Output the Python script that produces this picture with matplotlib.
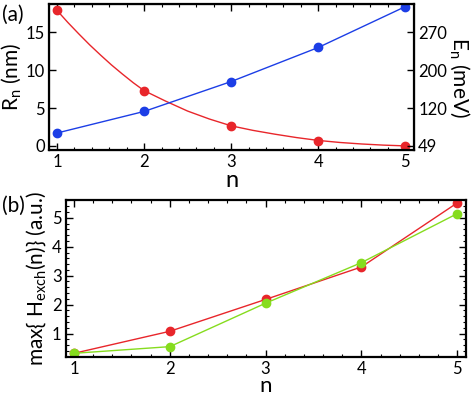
import matplotlib

matplotlib.use("Agg")
import matplotlib.pyplot as plt
from matplotlib.ticker import MultipleLocator

plt.rcParams["font.family"] = ["Lato", "DejaVu Sans"]
plt.rcParams["mathtext.fontset"] = "custom"
plt.rcParams["mathtext.rm"] = "Lato"
plt.rcParams["mathtext.it"] = "Lato:italic"

RED = "#e8262b"
BLUE = "#1c3ee6"
GREEN = "#86dc1e"

# panel (a)
n = [1, 2, 3, 4, 5]
r_pts = [17.9, 7.3, 2.65, 0.65, 0.0]
blue_pts = [1.7, 4.55, 8.5, 13.0, 18.4]
# smooth red curve
n_curve = [1, 1.125, 1.25, 1.375, 1.5, 1.625, 1.75, 1.875, 2, 2.25, 2.5, 2.75, 3,
           3.25, 3.5, 3.75, 4, 4.25, 4.5, 4.75, 5]
r_curve = [17.9, 16.3, 14.8, 13.35, 12.0, 10.7, 9.5, 8.35, 7.3, 5.9, 4.6, 3.55, 2.65,
           2.05, 1.55, 1.1, 0.72, 0.45, 0.25, 0.1, 0.0]
left_ticks = [0, 5, 10, 15]
energy_labels = ["49", "120", "200", "270"]

# panel (b)
h_red = [0.32, 1.08, 2.18, 3.30, 5.51]
h_green = [0.32, 0.55, 2.05, 3.45, 5.14]


def style(ax):
    ax.tick_params(which="both", direction="in", top=True, right=True, labelsize=12, pad=3)
    ax.tick_params(which="major", length=5, width=1)
    ax.tick_params(which="minor", length=2.5, width=0.8)
    for s in ax.spines.values():
        s.set_linewidth(1.6)


fig = plt.figure(figsize=(4.74, 3.98), dpi=100)

# ---- (a)
ax1 = fig.add_axes([0.1034, 0.623, 0.770, 0.367])
ax1.plot(n_curve, r_curve, color=RED, lw=1)
ax1.plot(n, r_pts, "o", color=RED, ms=6)
ax1.plot(n, blue_pts, "-o", color=BLUE, lw=1, ms=6)
ax1.set_xlim(0.908, 5.10)
ax1.set_ylim(-0.55, 18.75)
ax1.set_xticks(n)
ax1.xaxis.set_minor_locator(MultipleLocator(0.2))
ax1.set_yticks(left_ticks)
style(ax1)
ax1.tick_params(axis="y", right=False)
ax1.set_xlabel("n", fontsize=17, labelpad=0)
ax1.set_ylabel("R$_{\\rm n}$ (nm)", fontsize=15, labelpad=2)

ax1r = ax1.twinx()
ax1r.set_ylim(ax1.get_ylim())
ax1r.set_yticks(left_ticks)
ax1r.set_yticklabels(energy_labels)
ax1r.tick_params(direction="in", length=5, width=1, labelsize=12, pad=3)
ax1r.set_ylabel("E$_{\\rm n}$ (meV)", fontsize=15, rotation=-90, labelpad=18)
fig.text(0.005, 0.962, "(a)", fontsize=15, va="center")

# ---- (b)
ax2 = fig.add_axes([0.1386, 0.104, 0.844, 0.394])
ax2.plot(n, h_red, "-o", color=RED, lw=1, ms=6)
ax2.plot(n, h_green, "-o", color=GREEN, lw=1, ms=6)
ax2.set_xlim(0.913, 5.09)
ax2.set_ylim(0.206, 5.62)
ax2.set_xticks(n)
ax2.set_yticks([1, 2, 3, 4, 5])
ax2.xaxis.set_minor_locator(MultipleLocator(0.2))
ax2.yaxis.set_minor_locator(MultipleLocator(0.2))
style(ax2)
ax2.set_xlabel("n", fontsize=16, labelpad=-0.5)
ax2.set_ylabel("max{ H$_{\\rm exch}$(n)} (a.u.)", fontsize=15, labelpad=3)
fig.text(0.005, 0.483, "(b)", fontsize=15, va="center")

fig.savefig("out.png", dpi=100)
